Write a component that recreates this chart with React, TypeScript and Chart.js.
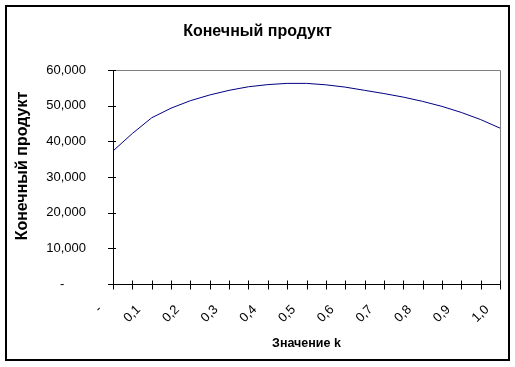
import React, { useEffect, useRef } from 'react';
import { Chart, registerables } from 'chart.js';

Chart.register(...registerables);

const categories = ['0', '0.05', '0.1', '0.15', '0.2', '0.25', '0.3', '0.35', '0.4', '0.45', '0.5', '0.55', '0.6', '0.65', '0.7', '0.75', '0.8', '0.85', '0.9', '0.95', '1.0'];
const tickLabels = ['-', '', '0,1', '', '0,2', '', '0,3', '', '0,4', '', '0,5', '', '0,6', '', '0,7', '', '0,8', '', '0,9', '', '1,0'];
const productValues = [37300, 42200, 46600, 49300, 51400, 53000, 54300, 55300, 55900, 56250, 56250, 55850, 55200, 54300, 53400, 52400, 51200, 49800, 48100, 46100, 43700];
const yMin = 0;
const yMax = 60000;
const yStep = 10000;
const zeroLabel = '-      ';
const chartTitle = 'Конечный продукт';
const xTitle = 'Значение k';
const yTitle = 'Конечный продукт';

const FONT = '"Liberation Sans", Arial, sans-serif';

const framePlugin = {
  id: 'frame',
  afterDraw(chart: any) {
    const { ctx, chartArea: a, scales } = chart;
    ctx.save();
    ctx.strokeStyle = '#000';
    ctx.lineWidth = 2;
    ctx.strokeRect(6, 6, 503, 354);
    ctx.lineWidth = 1;
    ctx.strokeStyle = '#808080';
    ctx.beginPath();
    ctx.moveTo(a.left, Math.round(a.top) + 0.5);
    ctx.lineTo(a.right + 0.5, Math.round(a.top) + 0.5);
    ctx.lineTo(a.right + 0.5, a.bottom);
    ctx.stroke();
    ctx.strokeStyle = '#000';
    ctx.beginPath();
    const lx = Math.round(a.left) + 0.5;
    const by = Math.round(a.bottom) + 0.5;
    ctx.moveTo(lx, a.top);
    ctx.lineTo(lx, by);
    ctx.moveTo(a.left - 5, by);
    ctx.lineTo(a.right + 1, by);
    const ys = scales.y;
    ys.ticks.forEach((t: any) => {
      const py = Math.round(ys.getPixelForValue(t.value)) + 0.5;
      ctx.moveTo(a.left - 5, py);
      ctx.lineTo(a.left + 3, py);
    });
    const xs = scales.x;
    categories.forEach((_c, i) => {
      const px = Math.round(xs.getPixelForValue(i)) + 0.5;
      ctx.moveTo(px, by - 4);
      ctx.lineTo(px, by + 5);
    });
    ctx.stroke();
    ctx.fillStyle = '#000';
    ctx.font = `bold 16px ${FONT}`;
    ctx.textAlign = 'center';
    ctx.textBaseline = 'middle';
    ctx.translate(23, 166);
    ctx.rotate(-Math.PI / 2);
    ctx.fillText(yTitle, 0, 0);
    ctx.restore();
  },
};

export default function App() {
  const ref = useRef<HTMLCanvasElement>(null);
  useEffect(() => {
    const chart = new Chart(ref.current as HTMLCanvasElement, {
      type: 'line',
      data: {
        labels: categories,
        datasets: [
          {
            data: productValues,
            borderColor: '#000080',
            borderWidth: 1,
            pointRadius: 0,
            tension: 0,
            fill: false,
          },
        ],
      },
      options: {
        animation: false,
        responsive: false,
        devicePixelRatio: 1,
        layout: { padding: { left: 0, right: 0, top: 0, bottom: 0 } },
        plugins: {
          legend: { display: false },
          tooltip: { enabled: false },
          title: {
            display: true,
            text: chartTitle,
            color: '#000',
            font: { family: FONT, size: 16, weight: 'bold' },
            padding: { top: 22, bottom: 28.8 },
          },
        },
        scales: {
          x: {
            type: 'category',
            offset: false,
            grid: { display: false },
            border: { display: false },
            afterFit: (s: any) => { s.height = 83; s.paddingRight = 0; s.paddingLeft = 0; },
            ticks: {
              autoSkip: false,
              minRotation: 45,
              maxRotation: 45,
              padding: 10,
              labelOffset: -13,
              color: '#000',
              font: { family: FONT, size: 13 },
              callback: (_v: any, i: number) => tickLabels[i],
            },
            title: {
              display: true,
              text: xTitle,
              color: '#000',
              font: { family: FONT, size: 12.5, weight: 'bold' },
              padding: { top: 0, bottom: 15.5 },
            },
          },
          y: {
            min: yMin,
            max: yMax,
            grid: { display: false },
            border: { display: false },
            afterFit: (s: any) => { s.width = 113; },
            ticks: {
              stepSize: yStep,
              padding: 19,
              color: '#000',
              font: { family: FONT, size: 13 },
              callback: (v: any) => (v === 0 ? zeroLabel : Number(v).toLocaleString('en-US')),
            },
          },
          yRight: {
            position: 'right',
            display: true,
            grid: { display: false },
            border: { display: false },
            ticks: { display: false },
            afterFit: (s: any) => { s.width = 15; },
          },
        },
      },
      plugins: [framePlugin],
    });
    return () => chart.destroy();
  }, []);
  return (
    <div style={{ position: 'absolute', left: 0, top: 0, width: 515, height: 367, background: '#fff' }}>
      <canvas ref={ref} width={515} height={367} />
    </div>
  );
}
